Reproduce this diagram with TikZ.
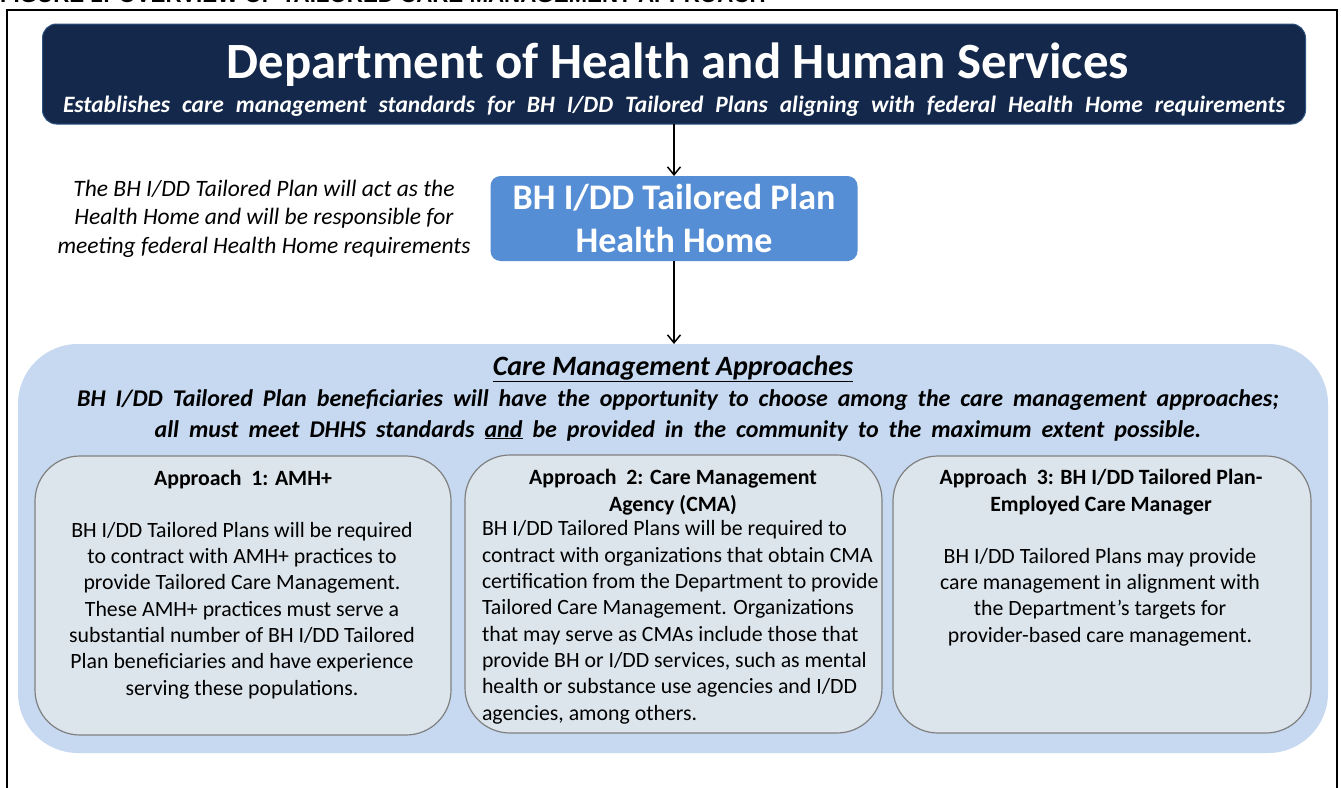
\documentclass[tikz,border=0pt]{standalone}
\usepackage{fontspec}
\setmainfont{Carlito}
\newfontfamily\figfont{Liberation Sans}
\usepackage{tikz}
\usetikzlibrary{arrows.meta, positioning}

\definecolor{dhhsnavy}{HTML}{13284A}
\definecolor{dhhsedge}{HTML}{2E5482}
\definecolor{homeblue}{HTML}{558ED5}
\definecolor{regionblue}{HTML}{C6D9F1}
\definecolor{boxgrey}{HTML}{DCE5EC}
\definecolor{boxedge}{HTML}{808080}

\newcommand{\widespace}[1]{\spaceskip=#1\relax}

\begin{document}
\begin{tikzpicture}[x=1pt, y=-1pt,
		every node/.style={inner sep=0pt, outer sep=0pt},
		flow/.style={line width=1.5pt, -{Straight Barb[length=8pt, width=13pt, line width=1.5pt]}},
		approachbox/.style={draw=boxedge, line width=1.2pt, fill=boxgrey, rounded corners=45pt},
		boxhead/.style={font=\bfseries\fontsize{21.8}{26.2}\selectfont, align=center, anchor=base},
		boxbody/.style={font=\fontsize{21.8}{26.3}\selectfont, anchor=base}]
				
				% Page and frame
				\useasboundingbox (0,0) rectangle (1341,787);
				\clip (0,0) rectangle (1341,787);
				\fill[white] (0,0) rectangle (1341,787);
				\node[anchor=base west, font=\figfont\bfseries\fontsize{22.3}{22.3}\selectfont] (figtitle) at (0,2) {FIGURE 1: OVERVIEW OF TAILORED CARE MANAGEMENT APPROACH};
				\draw[line width=2pt] (7,800) -- (7,10) -- (1337,10) -- (1337,800);
				
				% Department box
				\node[draw=dhhsedge, line width=1pt, fill=dhhsnavy, rounded corners=14pt, minimum width=1263pt, minimum height=100pt] (dhhs) at (674,74) {};
				\node[anchor=base, text=white, font=\bfseries\fontsize{50.8}{50.8}\selectfont] (dhhstitle) at (678,78) {Department of Health and Human Services};
				\node[anchor=base, text=white, font=\bfseries\itshape\fontsize{23.5}{23.5}\selectfont\widespace{12pt}] (dhhssub) at (674,112) {Establishes care management standards for BH I/DD Tailored Plans aligning with federal Health Home requirements};
				
				% Health Home
				\node[fill=homeblue, rounded corners=10pt, minimum width=367pt, minimum height=85pt] (hh) at (674,218.5) {};
				\node[anchor=base, align=center, text=white, font=\bfseries\fontsize{36}{43}\selectfont] (hhtext) at (674,252) {BH I/DD Tailored Plan\\Health Home};
				\node[anchor=base, align=center, font=\itshape\fontsize{23.5}{28.5}\selectfont] (hhnote) at (264,253) {The BH I/DD Tailored Plan will act as the\\Health Home and will be responsible for\\meeting federal Health Home requirements};
				
				% Care management approaches
				\node[fill=regionblue, rounded corners=60pt, minimum width=1310pt, minimum height=409pt] (region) at (673,548.5) {};
				\node[anchor=base, font=\bfseries\itshape\fontsize{28}{28}\selectfont] (regionhead) at (673,375) {\underline{Care Management\ Approaches}};
				\node[anchor=base, align=center, font=\bfseries\itshape\fontsize{24}{31}\selectfont\widespace{10pt}] (regionsub) at (678,437) {BH I/DD Tailored Plan beneficiaries will have the opportunity to choose among the care management approaches;\\all must meet DHHS standards \underline{and} be provided in the community to the maximum extent possible.};
				
				\draw[flow] (dhhs.south -| hh.north) -- (hh.north);
				\draw[flow] (hh.south) -- (region.north -| hh.south);
				
				% Approach boxes
				\node[approachbox, minimum width=416pt, minimum height=279pt] (app1) at (243,595.5) {};
				\node[approachbox, minimum width=417pt, minimum height=278pt] (app2) at (673.5,594) {};
				\node[approachbox, minimum width=418pt, minimum height=277pt] (app3) at (1102,594.5) {};
				
				\node[boxhead] (app1head) at (243,485) {Approach \ 1: AMH+};
				\node[boxhead] (app2head) at (673,511) {Approach \ 2: Care Management\\Agency (CMA)};
				\node[boxhead] (app3head) at (1101,511) {Approach \ 3: BH I/DD Tailored Plan-\\Employed Care Manager};
				
				\node[boxbody, align=center] (app1text) at (242,695) {BH I/DD Tailored Plans will be required\\to contract with AMH+ practices to\\provide Tailored Care Management.\\These AMH+ practices must serve a\\substantial number of BH I/DD Tailored\\Plan beneficiaries and have experience\\serving these populations.};
				\node[boxbody, align=left, anchor=base west] (app2text) at (482,720) {BH I/DD Tailored Plans will be required to\\contract with organizations that obtain CMA\\certification from the Department to provide\\Tailored Care Management. Organizations\\that may serve as CMAs include those that\\provide BH or I/DD services, such as mental\\health or substance use agencies and I/DD\\agencies, among others.};
				\node[boxbody, align=center] (app3text) at (1100,642) {BH I/DD Tailored Plans may provide\\care management in alignment with\\the Department's targets for\\provider-based care management.};
			\end{tikzpicture}
\end{document}
